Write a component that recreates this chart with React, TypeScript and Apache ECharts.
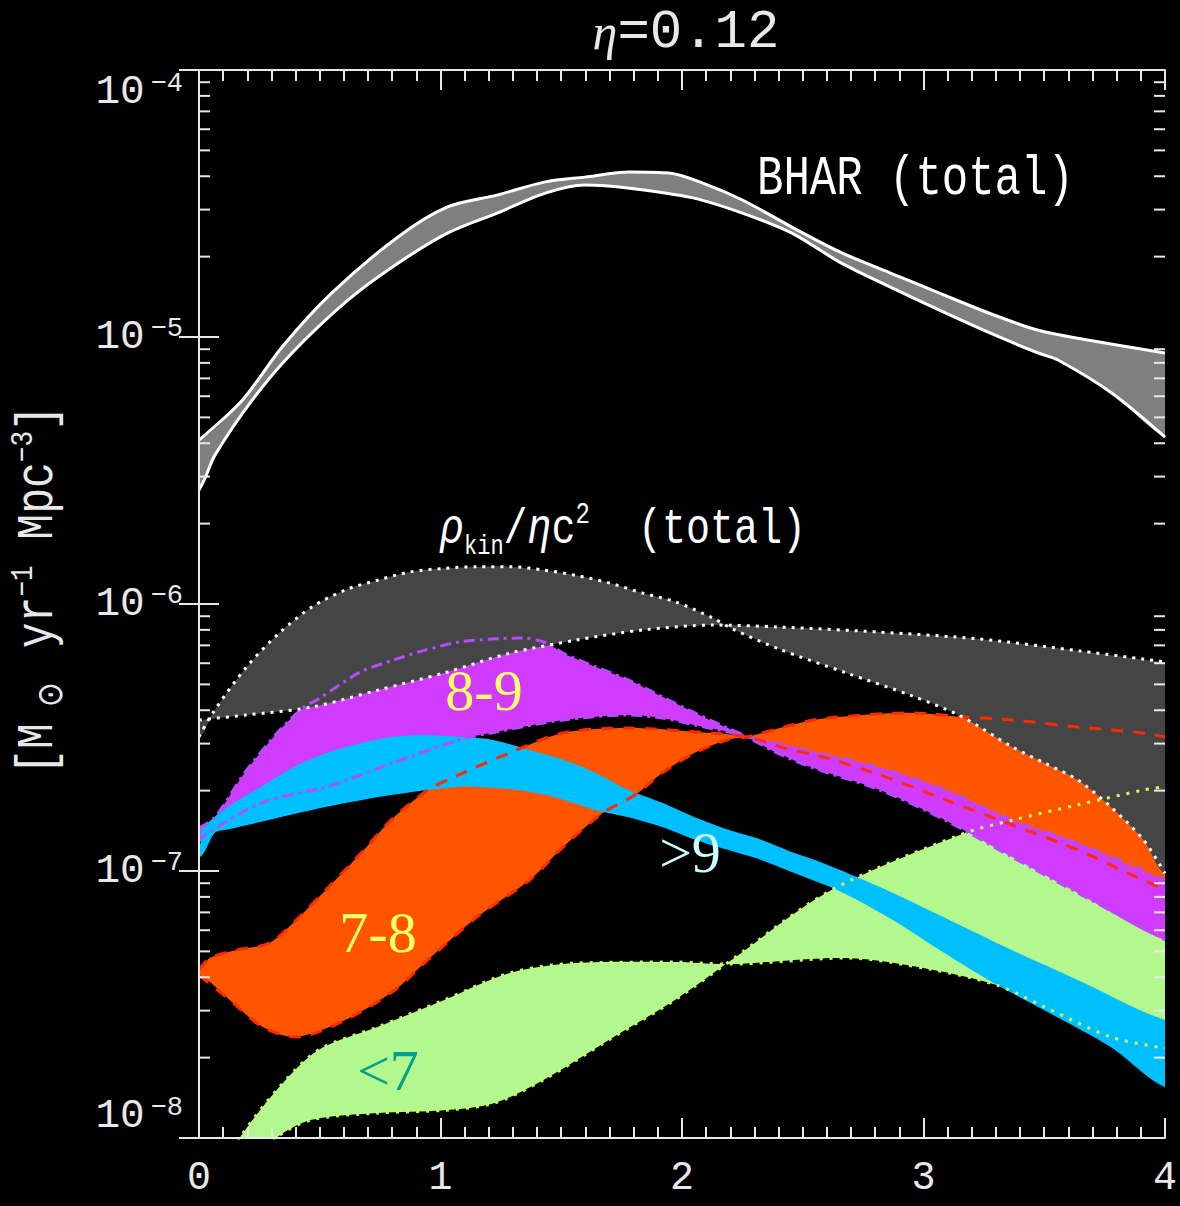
import React, { useEffect, useRef } from 'react';
import * as echarts from 'echarts';

type Pt = [number, number];

// Total black-hole accretion rate: the two bounding curves of the band
const bharA: Pt[] = [
  [0, 4.11e-6], [0.18, 5.81e-6], [0.344, 9.18e-6], [0.549, 1.46e-5], [0.824, 2.37e-5],
  [1.029, 3.07e-5], [1.234, 3.4e-5], [1.434, 3.81e-5], [1.598, 3.97e-5], [1.783, 4.15e-5],
  [1.947, 4.11e-5], [2.086, 3.77e-5], [2.25, 3.26e-5], [2.455, 2.58e-5], [2.66, 2.07e-5],
  [2.861, 1.74e-5], [3.066, 1.46e-5], [3.27, 1.23e-5], [3.475, 1.06e-5], [3.68, 9.75e-6],
  [4.0, 8.71e-6],
];
const bharB: Pt[] = [
  [0, 2.67e-6], [0.025, 2.96e-6], [0.066, 3.61e-6], [0.221, 5.81e-6], [0.385, 8.71e-6],
  [0.619, 1.38e-5], [0.824, 1.89e-5], [1.029, 2.45e-5], [1.234, 2.91e-5], [1.434, 3.46e-5],
  [1.598, 3.71e-5], [1.783, 3.61e-5], [2.045, 3.32e-5], [2.25, 2.91e-5], [2.455, 2.45e-5],
  [2.66, 1.89e-5], [2.861, 1.54e-5], [3.066, 1.26e-5], [3.27, 1.04e-5], [3.475, 8.71e-6],
  [3.557, 8.2e-6], [3.779, 6.17e-6], [4.0, 4.22e-6],
];

// Kinetic power / eta c^2 (total)
const kinA: Pt[] = [
  [0, 3.18e-7], [0.057, 3.91e-7], [0.197, 5.81e-7], [0.332, 7.78e-7], [0.467, 9.74e-7],
  [0.607, 1.13e-6], [0.742, 1.23e-6], [0.877, 1.32e-6], [1.016, 1.36e-6], [1.152, 1.38e-6],
  [1.287, 1.38e-6], [1.426, 1.34e-6], [1.561, 1.28e-6], [1.697, 1.2e-6], [1.836, 1.1e-6],
  [1.971, 1.02e-6], [2.127, 8.87e-7], [2.209, 8.06e-7], [2.402, 6.78e-7], [2.68, 5.52e-7],
  [2.955, 4.52e-7], [3.152, 3.81e-7], [3.369, 2.91e-7], [3.5, 2.54e-7], [3.639, 2.19e-7],
  [3.775, 1.74e-7], [3.91, 1.31e-7], [4.0, 9.8e-8],
];
const kinB: Pt[] = [
  [0, 3.68e-7], [0.197, 3.84e-7], [0.467, 4.11e-7], [0.742, 4.76e-7], [1.016, 5.52e-7],
  [1.287, 6.54e-7], [1.561, 7.32e-7], [1.836, 7.99e-7], [2.127, 8.34e-7], [2.402, 8.2e-7],
  [2.816, 7.85e-7], [3.234, 7.39e-7], [3.648, 6.67e-7], [4.0, 6.07e-7],
];

// log M_BH = 8-9
const m89A: Pt[] = [
  [0, 1.45e-7], [0.066, 1.59e-7], [0.189, 2.33e-7], [0.324, 3.29e-7], [0.434, 4.11e-7],
  [0.488, 4.37e-7], [0.668, 5.56e-7], [0.803, 6.16e-7], [0.939, 6.73e-7], [1.078, 7.21e-7],
  [1.213, 7.39e-7], [1.336, 7.46e-7], [1.439, 7.15e-7], [1.508, 6.54e-7], [1.643, 5.81e-7],
  [1.779, 5.19e-7], [1.918, 4.49e-7], [2.053, 3.91e-7], [2.189, 3.43e-7], [2.27, 3.18e-7],
  [2.393, 2.77e-7], [2.545, 2.43e-7], [2.82, 2.01e-7], [3.09, 1.55e-7], [3.365, 1.13e-7],
  [3.639, 8.28e-8], [4.0, 5.52e-8],
];
const m89B: Pt[] = [
  [0, 1.29e-7], [0.012, 1.34e-7], [0.258, 1.8e-7], [0.529, 2.07e-7], [0.803, 2.54e-7],
  [1.078, 3.1e-7], [1.234, 3.32e-7], [1.508, 3.68e-7], [1.779, 3.84e-7], [1.918, 3.74e-7],
  [2.053, 3.52e-7], [2.189, 3.32e-7], [2.27, 3.18e-7], [2.393, 3.01e-7], [2.545, 2.79e-7],
  [2.82, 2.43e-7], [3.09, 2.01e-7], [3.365, 1.55e-7], [3.639, 1.27e-7], [4.0, 9.25e-8],
];

// log M_BH > 9
const m9A: Pt[] = [
  [0, 1.25e-7], [0.012, 1.43e-7], [0.119, 1.74e-7], [0.258, 2.07e-7], [0.393, 2.45e-7],
  [0.529, 2.77e-7], [0.668, 3.01e-7], [0.803, 3.18e-7], [0.939, 3.23e-7], [1.078, 3.18e-7],
  [1.213, 3.1e-7], [1.369, 2.84e-7], [1.508, 2.61e-7], [1.643, 2.33e-7], [1.779, 2.01e-7],
  [1.918, 1.8e-7], [2.053, 1.59e-7], [2.189, 1.43e-7], [2.328, 1.31e-7], [2.463, 1.17e-7],
  [2.586, 1.07e-7], [2.82, 8.71e-8], [3.09, 6.67e-8], [3.365, 5.06e-8], [3.639, 3.91e-8],
  [4.0, 2.77e-8],
];
const m9B: Pt[] = [
  [0, 1.12e-7], [0.066, 1.39e-7], [0.119, 1.43e-7], [0.258, 1.53e-7], [0.529, 1.74e-7],
  [0.803, 1.93e-7], [1.078, 2.07e-7], [1.213, 2.05e-7], [1.369, 1.98e-7], [1.508, 1.85e-7],
  [1.643, 1.69e-7], [1.779, 1.59e-7], [1.918, 1.46e-7], [2.053, 1.31e-7], [2.189, 1.2e-7],
  [2.328, 1.1e-7], [2.463, 9.84e-8], [2.668, 8.28e-8], [2.873, 6.55e-8], [3.078, 4.98e-8],
  [3.283, 3.84e-8], [3.5, 3.01e-8], [3.775, 2.19e-8], [4.0, 1.55e-8],
];

// log M_BH = 7-8
const m78A: Pt[] = [
  [0, 4.26e-8], [0.045, 4.72e-8], [0.156, 5.06e-8], [0.291, 5.37e-8], [0.402, 6.55e-8],
  [0.537, 8.71e-8], [0.672, 1.17e-7], [0.795, 1.55e-7], [0.947, 2.01e-7], [1.057, 2.25e-7],
  [1.287, 2.77e-7], [1.508, 3.29e-7], [1.779, 3.43e-7], [2.053, 3.32e-7], [2.27, 3.18e-7],
  [2.422, 2.89e-7], [2.586, 2.67e-7], [2.82, 2.29e-7], [3.09, 1.85e-7], [3.365, 1.49e-7],
  [3.57, 1.27e-7], [3.705, 1.13e-7], [3.844, 9.84e-8], [4.0, 8.49e-8],
];
const m78B: Pt[] = [
  [0, 4.07e-8], [0.127, 3.29e-8], [0.262, 2.61e-8], [0.402, 2.39e-8], [0.607, 2.77e-8],
  [0.811, 3.58e-8], [0.947, 4.64e-8], [1.152, 6.73e-8], [1.369, 9.25e-8], [1.508, 1.23e-7],
  [1.672, 1.65e-7], [1.807, 1.93e-7], [1.918, 2.33e-7], [2.053, 2.77e-7], [2.189, 3.1e-7],
  [2.27, 3.18e-7], [2.422, 3.46e-7], [2.545, 3.68e-7], [2.75, 3.84e-7], [2.955, 3.91e-7],
  [3.16, 3.78e-7], [3.365, 3.68e-7], [3.639, 3.46e-7], [3.91, 3.29e-7], [4.0, 3.18e-7],
];

// log M_BH < 7
const m7A: Pt[] = [
  [0.127, 8.28e-9], [0.168, 1.0e-8], [0.332, 1.55e-8], [0.496, 2.14e-8], [0.742, 2.61e-8],
  [1.016, 3.29e-8], [1.287, 4.15e-8], [1.561, 4.52e-8], [1.971, 4.56e-8], [2.193, 4.48e-8],
  [2.68, 4.72e-8], [3.025, 4.29e-8], [3.303, 3.74e-8], [3.5, 3.1e-8], [3.775, 2.39e-8],
  [4.0, 2.17e-8],
];
const m7B: Pt[] = [
  [0.27, 8.28e-9], [0.32, 1.0e-8], [0.467, 1.17e-8], [0.742, 1.24e-8], [1.016, 1.27e-8],
  [1.221, 1.35e-8], [1.426, 1.65e-8], [1.697, 2.33e-8], [1.971, 3.29e-8], [2.193, 4.56e-8],
  [2.611, 8.41e-8], [3.164, 1.38e-7], [3.369, 1.55e-7], [3.639, 1.77e-7], [3.91, 2.01e-7],
  [4.0, 2.07e-7],
];

// Minor tick positions of the logarithmic axis
const yMinorTicks: number[] = [
  2e-8, 3e-8, 4e-8, 5e-8, 6e-8, 7e-8, 8e-8, 9e-8,
  2e-7, 3e-7, 4e-7, 5e-7, 6e-7, 7e-7, 8e-7, 9e-7,
  2e-6, 3e-6, 4e-6, 5e-6, 6e-6, 7e-6, 8e-6, 9e-6,
  2e-5, 3e-5, 4e-5, 5e-5, 6e-5, 7e-5, 8e-5, 9e-5,
];

const FRAME = '#e8e8e8';
const MONO = '"Liberation Mono", "DejaVu Sans Mono", monospace';
const SERIF = '"Liberation Serif", "DejaVu Serif", serif';
const SMOOTH = 0.3;
// horizontal run-out (px) added past both ends so the smoothed outline stays square at the clip edges
const RUNOUT = 40;

function band(name: string, a: Pt[], b: Pt[], color: string, z: number) {
  return {
    type: 'custom',
    name,
    z,
    silent: true,
    clip: true,
    data: [a[0]],
    renderItem: (_params: any, api: any) => {
      const pa: number[][] = a.map((p) => api.coord(p));
      const pb: number[][] = b.map((p) => api.coord(p));
      const a0 = pa[0];
      const b0 = pb[0];
      const a1 = pa[pa.length - 1];
      const b1 = pb[pb.length - 1];
      const pts = [
        [b0[0] - RUNOUT, b0[1]],
        [a0[0] - RUNOUT, a0[1]],
        ...pa,
        [a1[0] + RUNOUT, a1[1]],
        [b1[0] + RUNOUT, b1[1]],
        ...pb.slice().reverse(),
      ];
      return { type: 'polygon', shape: { points: pts, smooth: SMOOTH }, style: { fill: color } };
    },
  };
}

function edge(name: string, pts: Pt[], color: string, width: number, dash: any, z: number) {
  return {
    type: 'line',
    name,
    z,
    silent: true,
    data: pts,
    symbol: 'none',
    showSymbol: false,
    clip: true,
    smooth: SMOOTH,
    lineStyle: { color, width, type: dash, cap: 'butt' },
  };
}

const baseAxis = {
  axisLine: { show: true, lineStyle: { color: FRAME, width: 2 } },
  axisTick: { show: true, inside: true, length: 20, lineStyle: { color: FRAME, width: 2 } },
  splitLine: { show: false },
  z: 20,
};

const xAxisCommon = {
  ...baseAxis,
  type: 'value',
  min: 0,
  max: 4,
  interval: 1,
  minorTick: { show: true, splitNumber: 10, length: 11, lineStyle: { color: FRAME, width: 2 } },
  minorSplitLine: { show: false },
};

const yAxisCommon = {
  ...baseAxis,
  type: 'log',
  logBase: 10,
  min: 1e-8,
  max: 1e-4,
};

const option: any = {
  backgroundColor: '#000000',
  animation: false,
  grid: { left: 199, right: 5, top: 70, bottom: 68 },
  xAxis: [
    {
      ...xAxisCommon,
      position: 'bottom',
      axisLabel: {
        color: FRAME,
        fontFamily: MONO,
        fontSize: 40,
        margin: 20,
        showMinLabel: true,
        showMaxLabel: true,
      },
    },
    { ...xAxisCommon, position: 'top', axisLabel: { show: false } },
  ],
  yAxis: [
    {
      ...yAxisCommon,
      position: 'left',
      axisLabel: {
        margin: 16,
        showMinLabel: true,
        showMaxLabel: true,
        verticalAlignMaxLabel: 'top',
        verticalAlignMinLabel: 'bottom',
        formatter: (v: number) => `{b|10}{s|\u2212${-Math.round(Math.log10(v))}}`,
        rich: {
          b: { fontFamily: MONO, fontSize: 41, color: FRAME, lineHeight: 44 },
          s: { fontFamily: MONO, fontSize: 27, color: FRAME, lineHeight: 38, verticalAlign: 'top', padding: [0, 0, 0, 6] },
        },
      },
    },
    { ...yAxisCommon, position: 'right', axisLabel: { show: false } },
  ],
  series: [
    band('BHAR band', bharA, bharB, '#7f7f7f', 2),
    band('<7 band', m7A, m7B, '#b3f88e', 3),
    band('7-8 band', m78A, m78B, '#ff5500', 4),
    band('8-9 band', m89A, m89B, '#d03cff', 5),
    band('>9 band', m9A, m9B, '#00bfff', 6),
    band('kinetic band', kinA, kinB, '#454545', 7),
    edge('BHAR a', bharA, '#ffffff', 3, 'solid', 10),
    edge('BHAR b', bharB, '#ffffff', 3, 'solid', 10),
    edge('8-9 a', m89A, '#b44cff', 3, [11, 5, 3, 5], 11),
    edge('8-9 b', m89B, '#b44cff', 3, [11, 5, 3, 5], 11),
    edge('7-8 a', m78A, '#ff2a00', 3, [12, 10], 12),
    edge('7-8 b', m78B, '#ff2a00', 3, [12, 10], 12),
    edge('<7 a', m7A, '#c8ff5c', 3, [3, 7], 13),
    edge('<7 b', m7B, '#c8ff5c', 3, [3, 7], 13),
    edge('kin a', kinA, '#ffffff', 3, [3, 6], 14),
    edge('kin b', kinB, '#ffffff', 3, [3, 6], 14),
    {
      type: 'custom',
      name: 'log minor ticks',
      z: 30,
      silent: true,
      clip: false,
      data: yMinorTicks.map((v) => [0, v]),
      renderItem: (_params: any, api: any) => {
        const v = api.value(1);
        const l = api.coord([0, v]);
        const r = api.coord([4, v]);
        return {
          type: 'group',
          children: [
            { type: 'line', shape: { x1: l[0], y1: l[1], x2: l[0] + 11, y2: l[1] }, style: { stroke: FRAME, lineWidth: 2 } },
            { type: 'line', shape: { x1: r[0] - 11, y1: r[1], x2: r[0], y2: r[1] }, style: { stroke: FRAME, lineWidth: 2 } },
          ],
        };
      },
    },
  ],
  graphic: [
    {
      type: 'text',
      x: 686,
      y: 32,
      z: 50,
      style: {
        text: '{e|\u03b7}{m|=0.12}',
        align: 'center',
        verticalAlign: 'middle',
        fill: FRAME,
        rich: {
          e: { fontFamily: SERIF, fontStyle: 'italic', fontSize: 50, fill: FRAME, color: FRAME },
          m: { fontFamily: MONO, fontSize: 54, fill: FRAME, color: FRAME },
        },
      },
    },
    {
      type: 'text',
      x: 757,
      y: 180,
      z: 50,
      scaleY: 1.25,
      style: {
        text: 'BHAR (total)',
        align: 'left',
        verticalAlign: 'middle',
        fill: '#ffffff',
        fontFamily: MONO,
        fontSize: 44,
      },
    },
    {
      type: 'text',
      x: 440,
      y: 530,
      z: 50,
      scaleY: 1.25,
      style: {
        text: '{g|\u03c1}{sub|kin}{m|/}{g|\u03b7}{m|c}{sup|2}{m|  (total)}',
        align: 'left',
        verticalAlign: 'middle',
        fill: '#ffffff',
        rich: {
          g: { fontFamily: MONO, fontStyle: 'italic', fontSize: 40, lineHeight: 48, fill: '#ffffff', color: '#ffffff' },
          m: { fontFamily: MONO, fontSize: 40, lineHeight: 48, fill: '#ffffff', color: '#ffffff' },
          sub: { fontFamily: MONO, fontSize: 22, lineHeight: 30, verticalAlign: 'bottom', fill: '#ffffff', color: '#ffffff' },
          sup: { fontFamily: MONO, fontSize: 24, lineHeight: 32, verticalAlign: 'top', fill: '#ffffff', color: '#ffffff' },
        },
      },
    },
    {
      type: 'text',
      x: 484,
      y: 690,
      z: 50,
      style: { text: '8-9', align: 'center', verticalAlign: 'middle', fill: '#ffff66', fontFamily: SERIF, fontSize: 58 },
    },
    {
      type: 'text',
      x: 378,
      y: 932,
      z: 50,
      style: { text: '7-8', align: 'center', verticalAlign: 'middle', fill: '#ffff66', fontFamily: SERIF, fontSize: 58 },
    },
    {
      type: 'text',
      x: 690,
      y: 852,
      z: 50,
      style: { text: '>9', align: 'center', verticalAlign: 'middle', fill: '#ccffff', fontFamily: SERIF, fontSize: 58 },
    },
    {
      type: 'text',
      x: 388,
      y: 1070,
      z: 50,
      style: { text: '<7', align: 'center', verticalAlign: 'middle', fill: '#00a08a', fontFamily: SERIF, fontSize: 58 },
    },
    {
      type: 'text',
      x: 38,
      y: 590,
      z: 50,
      rotation: Math.PI / 2,
      scaleY: 1.2,
      style: {
        text: '{t|[M}{o|\u2299}{t| yr}{s|\u22121}{t| Mpc}{s|\u22123}{t|]}',
        align: 'center',
        verticalAlign: 'middle',
        fill: FRAME,
        rich: {
          t: { fontFamily: MONO, fontSize: 43, lineHeight: 50, fill: FRAME, color: FRAME },
          o: { fontFamily: '"DejaVu Sans", sans-serif', fontSize: 30, lineHeight: 40, verticalAlign: 'bottom', padding: [0, 8, 0, 16], fill: FRAME, color: FRAME },
          s: { fontFamily: MONO, fontSize: 26, lineHeight: 34, verticalAlign: 'top', fill: FRAME, color: FRAME },
        },
      },
    },
  ],
};

export default function App() {
  const ref = useRef<HTMLDivElement>(null);
  useEffect(() => {
    const chart = echarts.init(ref.current as HTMLDivElement, undefined, { renderer: 'svg' });
    chart.setOption(option);
    return () => chart.dispose();
  }, []);
  return (
    <div
      ref={ref}
      style={{ position: 'fixed', left: 0, top: 0, width: 1180, height: 1206, background: '#000000' }}
    />
  );
}
